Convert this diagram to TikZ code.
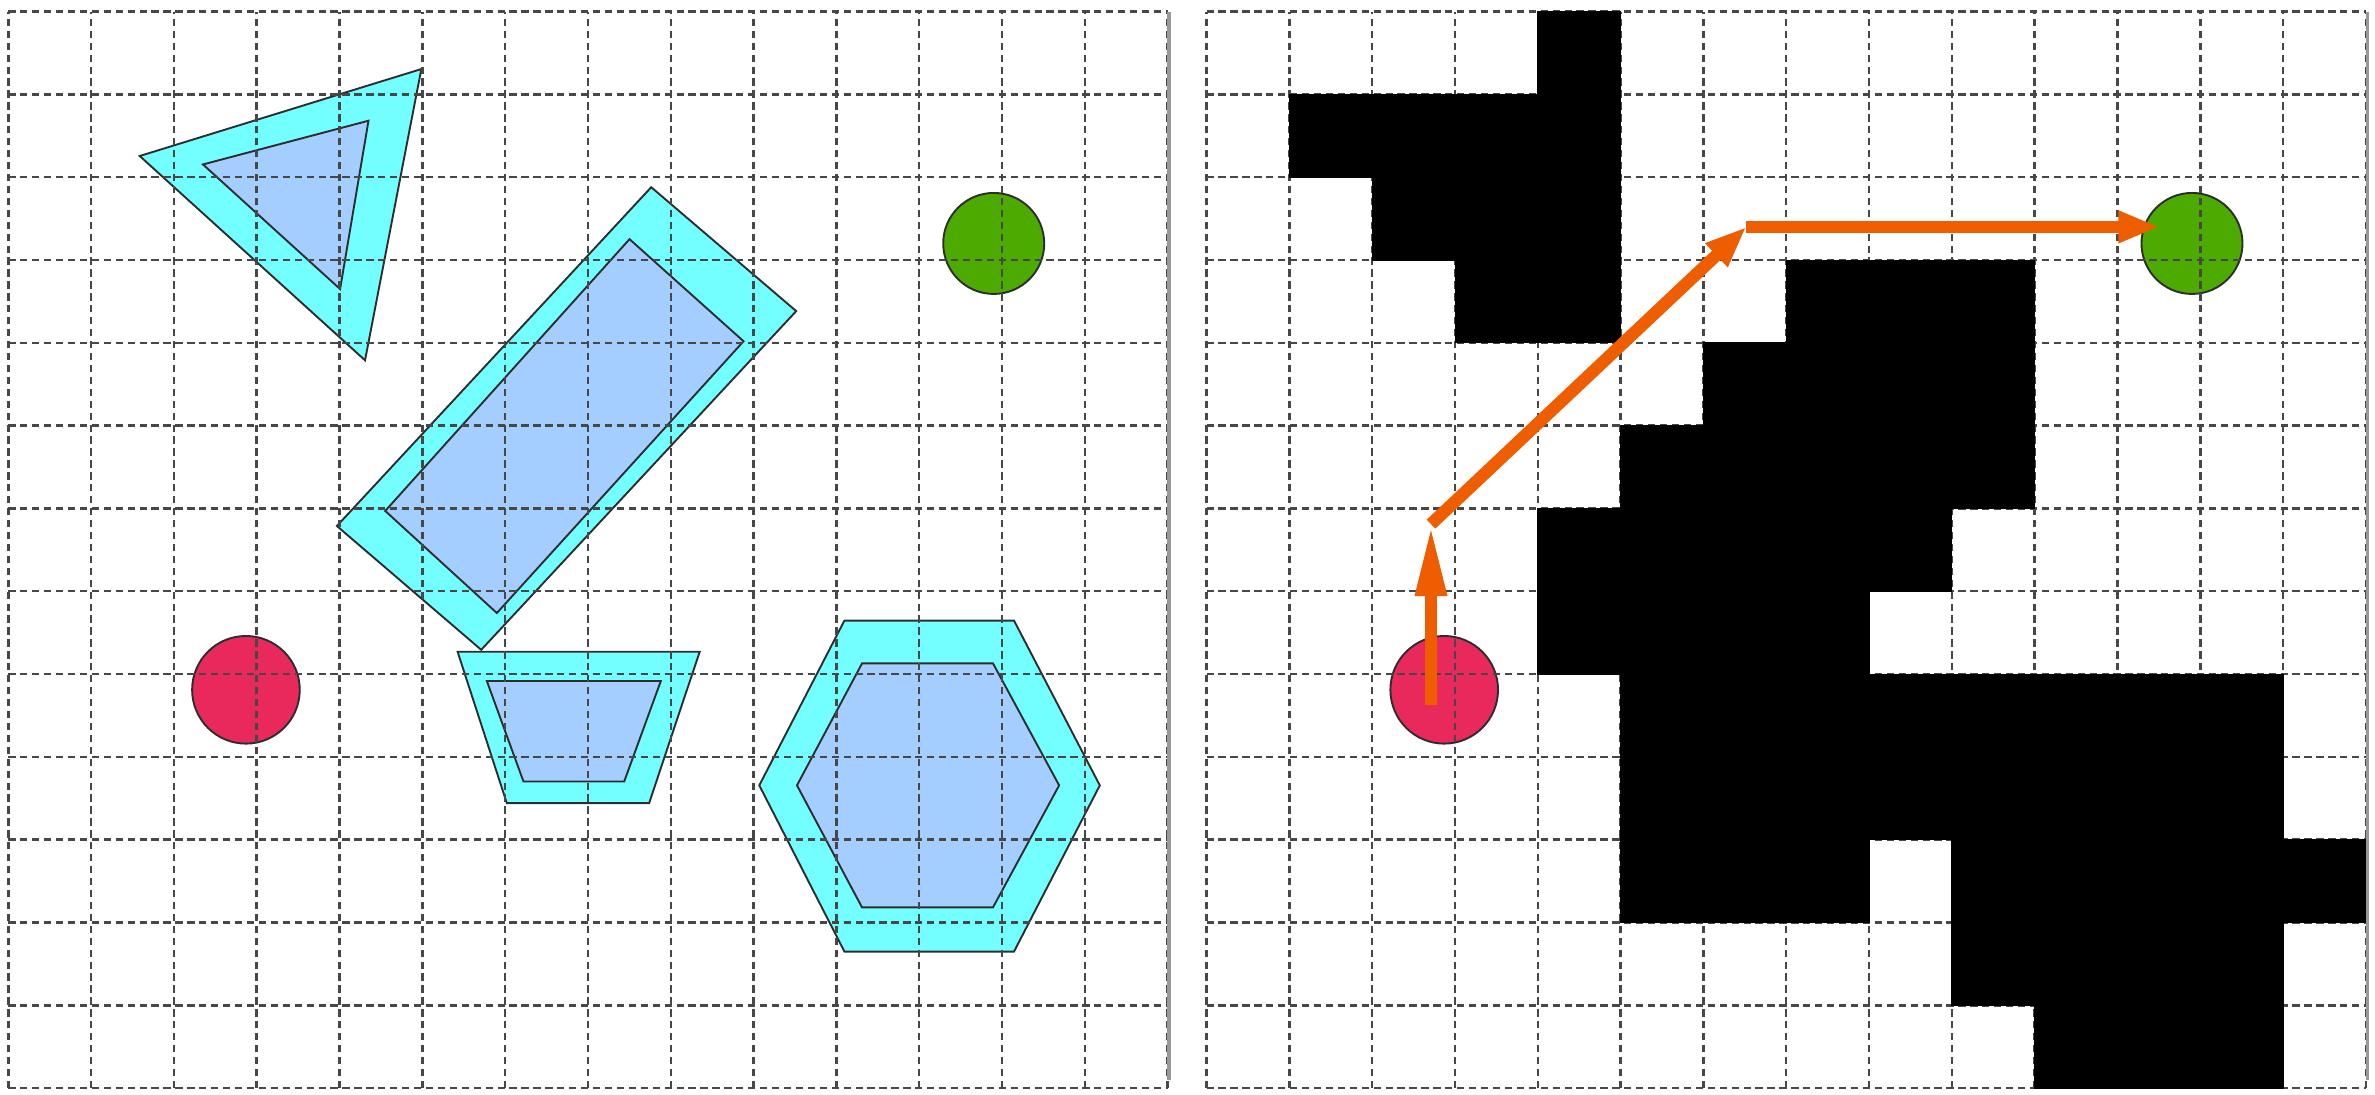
\documentclass[tikz,border=0pt]{standalone}
\usepackage{xcolor}
\usepackage{tikz}
\usetikzlibrary{arrows.meta, positioning}
\definecolor{cyanfill}{RGB}{115,255,255}
\definecolor{bluefill}{RGB}{164,206,255}
\definecolor{startred}{RGB}{233,40,92}
\definecolor{goalgreen}{RGB}{76,170,0}
\definecolor{routeorange}{RGB}{238,94,0}
\definecolor{edgegray}{RGB}{45,45,45}
\tikzset{gridline/.style={draw=black!72, line width=0.85pt, dash pattern=on 2.5pt off 1.6pt}}
\tikzset{divider/.style={draw=black!40, line width=1.3pt}}
\tikzset{inflated/.style={fill=cyanfill, draw=edgegray, line width=0.65pt}}
\tikzset{obstacle/.style={fill=bluefill, draw=edgegray, line width=0.65pt}}
\tikzset{blocked/.style={fill=black, draw=black, line width=0.3pt}}
\tikzset{startdot/.style={circle, fill=startred, draw=edgegray, line width=0.65pt, minimum size=1.3cm, inner sep=0pt}}
\tikzset{goaldot/.style={circle, fill=goalgreen, draw=edgegray, line width=0.65pt, minimum size=1.22cm, inner sep=0pt}}
\tikzset{route/.style={draw=routeorange, line width=0.15cm, -{Triangle[length=0.5cm, width=0.36cm]}}}
\tikzset{longtip/.style={-{Triangle[length=0.87cm, width=0.35cm]}}}

\begin{document}
\begin{tikzpicture}
  \useasboundingbox (-0.1,-0.08) rectangle (28.58,13.14);
  % Left panel: obstacles and their margins
  \draw[inflated] (1.587,11.256) -- (4.988,12.306) -- (4.308,8.789) -- cycle;
  \draw[obstacle] (2.351,11.154) -- (4.350,11.682) -- (4.007,9.649) -- cycle;
  \draw[inflated] (7.764,10.879) -- (9.515,9.383) -- (5.711,5.293) -- (3.968,6.788) -- cycle;
  \draw[obstacle] (7.502,10.252) -- (8.879,9.019) -- (5.900,5.737) -- (4.552,6.970) -- cycle;
  \draw[inflated] (5.426,5.269) -- (8.349,5.269) -- (7.739,3.442) -- (6.020,3.442) -- cycle;
  \draw[obstacle] (5.779,4.916) -- (7.880,4.916) -- (7.438,3.703) -- (6.221,3.703) -- cycle;
  \draw[inflated] (10.097,5.646) -- (12.145,5.646) -- (13.181,3.656) -- (12.145,1.649)
    -- (10.097,1.649) -- (9.069,3.656) -- cycle;
  \draw[obstacle] (10.310,5.129) -- (11.891,5.129) -- (12.690,3.656) -- (11.891,2.182)
    -- (10.310,2.182) -- (9.524,3.656) -- cycle;
  %Nodes
  \node[startdot] (startL) at (2.87,4.81) {};
  \node[goaldot] (goalL) at (11.9,10.2) {};
  \node[startdot] (startR) at (17.34,4.81) {};
  \node[goaldot] (goalR) at (26.37,10.2) {};
  \coordinate (w0) at (17.18,4.63);
  \coordinate (w1) at (17.18,6.81);
  \coordinate (w2) at (20.99,10.40);
  \coordinate (w3) at (25.98,10.40);
  % Grids
  \draw[gridline] (0,0) grid (14,13);
  \begin{scope}[xshift=14.47cm]
    \draw[gridline] (0,0) grid (14,13);
    % occupied cells
    \foreach \xa/\xb/\ya/\yb in {4/5/12/13, 1/5/11/12, 2/5/10/11, 3/5/9/10, 7/10/9/10,
      6/10/8/9, 5/10/7/8, 4/9/6/7, 4/8/5/6, 5/13/3/5, 5/8/2/3, 9/14/2/3, 9/13/1/2, 10/13/0/1}
      \draw[blocked] (\xa,\ya) rectangle (\xb,\yb);
  \end{scope}
  \draw[divider] (14.02,0.1) -- (14.02,13);
  \draw[divider] (28.49,0.1) -- (28.49,13);
  % Route
  \begin{scope}[every edge/.style={route}]
    \draw (w0) edge[longtip] (w1);
    \draw (w1) edge (w2);
    \draw (w2) edge (w3);
  \end{scope}
\end{tikzpicture}
\end{document}
